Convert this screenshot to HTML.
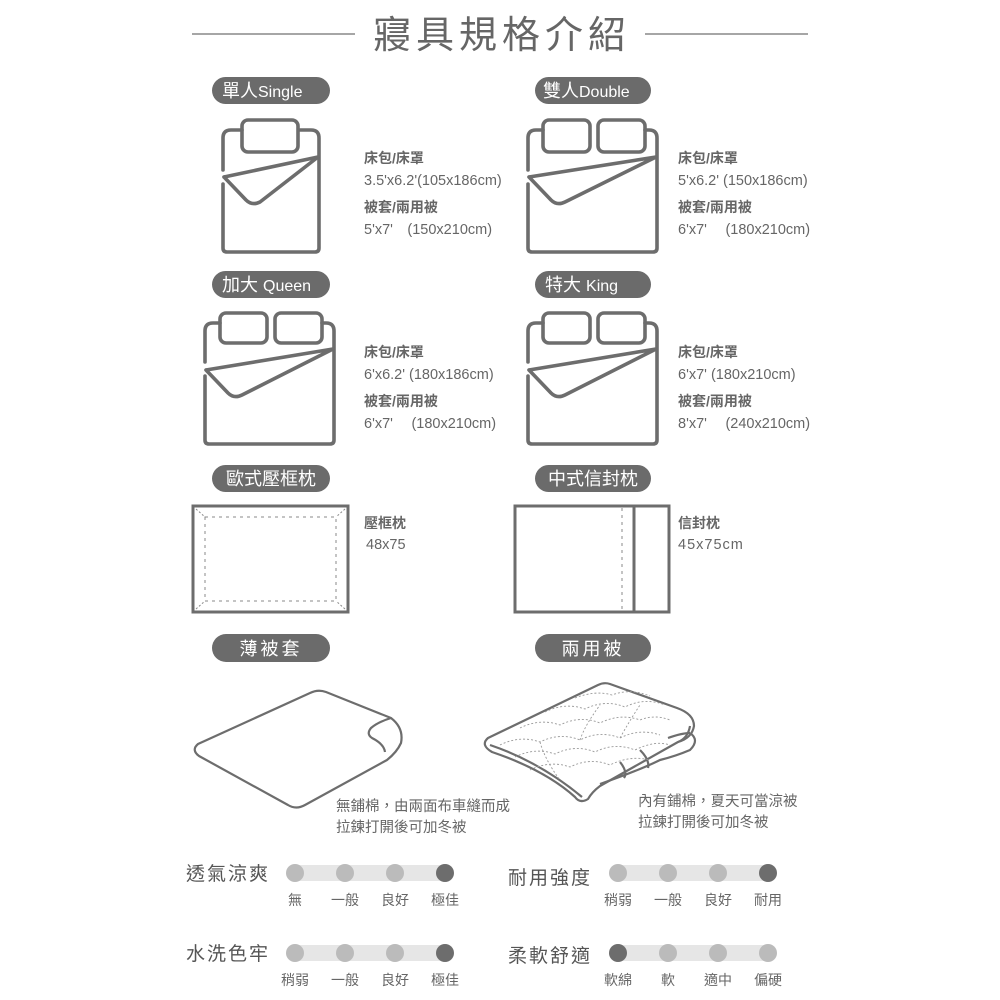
<!DOCTYPE html>
<html><head><meta charset="utf-8"><style>
html,body{margin:0;padding:0;background:#fff;}
svg{display:block;font-family:"Liberation Sans","Noto Sans CJK TC",sans-serif;}
.pill{fill:#6b6b6b}
.pt{fill:#fff;font-size:18px}
.ln{fill:none;stroke:#6d6d6d;stroke-width:3.6;stroke-linecap:round;stroke-linejoin:round}
.th{fill:none;stroke:#6d6d6d;stroke-width:2.2;stroke-linejoin:round}
.hd{fill:#666;font-size:14px;font-weight:bold}
.sp{fill:#666;font-size:14.5px}
.rl{fill:#555;font-size:19px;letter-spacing:2px}
.rs{fill:#666;font-size:14px;text-anchor:middle}
</style></head><body>
<svg width="1000" height="1000" viewBox="0 0 1000 1000">
<line x1="192" y1="34" x2="355" y2="34" stroke="#888" stroke-width="1.5"/>
<line x1="645" y1="34" x2="808" y2="34" stroke="#888" stroke-width="1.5"/>
<text x="502" y="48" text-anchor="middle" font-size="38" fill="#666" letter-spacing="5">寢具規格介紹</text>

<rect class="pill" x="212" y="77" width="118" height="27" rx="13.5"/><text class="pt" x="222" y="97">單人<tspan font-size="16">Single</tspan></text>
<rect class="pill" x="535" y="77" width="116" height="27" rx="13.5"/><text class="pt" x="543" y="97">雙人<tspan font-size="16">Double</tspan></text>
<rect class="pill" x="212" y="271" width="118" height="27" rx="13.5"/><text class="pt" x="222" y="291">加大 <tspan font-size="16">Queen</tspan></text>
<rect class="pill" x="535" y="271" width="116" height="27" rx="13.5"/><text class="pt" x="545" y="291">特大 <tspan font-size="16">King</tspan></text>
<rect class="pill" x="212" y="465" width="118" height="27" rx="13.5"/><text class="pt" x="271" y="485" text-anchor="middle">歐式壓框枕</text>
<rect class="pill" x="535" y="465" width="116" height="27" rx="13.5"/><text class="pt" x="593" y="485" text-anchor="middle">中式信封枕</text>
<rect class="pill" x="212" y="634" width="118" height="28" rx="14"/><text class="pt" x="271" y="655" text-anchor="middle" font-size="19" letter-spacing="3">薄被套</text>
<rect class="pill" x="535" y="634" width="116" height="28" rx="14"/><text class="pt" x="593" y="655" text-anchor="middle" font-size="19" letter-spacing="3">兩用被</text>

<path class="ln" d="M223,170 L223,138 Q223,130 231,130 L242,130 M300,130 L311,130 Q319,130 319,138 L319,248 Q319,252 315,252 L227,252 Q223,252 223,248 L223,184"/>
<rect class="ln" x="242" y="120" width="56" height="32" rx="6"/>
<path class="ln" d="M224,177 L318,157 M224,177 L246,200 Q252,206 260,202 L318,157"/>
<path class="ln" d="M528,170 L528,138 Q528,130 536,130 L543,130 M645,130 L649,130 Q657,130 657,138 L657,248 Q657,252 653,252 L532,252 Q528,252 528,248 L528,184"/>
<rect class="ln" x="543" y="120" width="47" height="32" rx="6"/>
<rect class="ln" x="598" y="120" width="47" height="32" rx="6"/>
<path class="ln" d="M529,177 L656,157 M529,177 L551,200 Q557,206 565,202 L656,157"/>
<path class="ln" d="M205,362 L205,331 Q205,323 213,323 L220,323 M322,323 L326,323 Q334,323 334,331 L334,440 Q334,444 330,444 L209,444 Q205,444 205,440 L205,376"/>
<rect class="ln" x="220" y="313" width="47" height="30" rx="6"/>
<rect class="ln" x="275" y="313" width="47" height="30" rx="6"/>
<path class="ln" d="M206,370 L333,349 M206,370 L228,393 Q234,399 242,395 L333,349"/>
<path class="ln" d="M528,362 L528,331 Q528,323 536,323 L543,323 M645,323 L649,323 Q657,323 657,331 L657,440 Q657,444 653,444 L532,444 Q528,444 528,440 L528,376"/>
<rect class="ln" x="543" y="313" width="47" height="30" rx="6"/>
<rect class="ln" x="598" y="313" width="47" height="30" rx="6"/>
<path class="ln" d="M529,370 L656,349 M529,370 L551,393 Q557,399 565,395 L656,349"/>

<text class="hd" x="364" y="163">床包/床罩</text><text class="sp" x="364" y="185">3.5'x6.2'(105x186cm)</text>
<text class="hd" x="364" y="212">被套/兩用被</text><text class="sp" x="364" y="234">5'x7'　(150x210cm)</text>
<text class="hd" x="678" y="163">床包/床罩</text><text class="sp" x="678" y="185">5'x6.2'  (150x186cm)</text>
<text class="hd" x="678" y="212">被套/兩用被</text><text class="sp" x="678" y="234">6'x7'　 (180x210cm)</text>
<text class="hd" x="364" y="357">床包/床罩</text><text class="sp" x="364" y="379">6'x6.2'  (180x186cm)</text>
<text class="hd" x="364" y="406">被套/兩用被</text><text class="sp" x="364" y="428">6'x7'　 (180x210cm)</text>
<text class="hd" x="678" y="357">床包/床罩</text><text class="sp" x="678" y="379">6'x7'  (180x210cm)</text>
<text class="hd" x="678" y="406">被套/兩用被</text><text class="sp" x="678" y="428">8'x7'　 (240x210cm)</text>

<rect x="193" y="506" width="155" height="106" fill="none" stroke="#6d6d6d" stroke-width="3"/>
<rect x="205" y="517" width="131" height="84" fill="none" stroke="#888" stroke-width="1" stroke-dasharray="3,4"/>
<path d="M196,509 L205,517 M345,509 L336,517 M196,609 L205,601 M345,609 L336,601" stroke="#888" stroke-width="1" stroke-dasharray="2,2"/>
<text class="hd" x="364" y="528">壓框枕</text><text class="sp" x="366" y="549">48x75</text>
<rect x="515" y="506" width="154" height="106" fill="none" stroke="#6d6d6d" stroke-width="3"/>
<line x1="622" y1="508" x2="622" y2="610" stroke="#888" stroke-width="1" stroke-dasharray="3,4"/>
<line x1="634" y1="506" x2="634" y2="612" stroke="#6d6d6d" stroke-width="3"/>
<text class="hd" x="678" y="528">信封枕</text><text class="sp" x="678" y="549" letter-spacing="1">45x75cm</text>

<path class="th" d="M198,744 L310,693 Q318,689 326,692 L391,718 Q404,728 401,743 Q397,752 387,760 L305,805 Q296,810 288,805 L199,756 Q191,750 198,744 Z"/>
<path class="th" d="M391,718 Q378,722 371,728 Q366,734 372,738 Q384,744 385,752"/>
<text class="sp" x="336" y="811">無鋪棉，由兩面布車縫而成</text>
<text class="sp" x="336" y="832">拉鍊打開後可加冬被</text>

<!-- dual quilt -->
<path class="th" d="M600,784 Q640,770 660,760 Q676,756 690,750 Q700,740 690,733"/>
<path class="th" d="M668,738 Q682,733 690,733"/>
<path class="th" d="M640,750 Q650,760 648,768 M620,762 Q628,772 624,778"/>
<path class="th" d="M488,738 L598,685 Q604,682 610,684 L677,708 Q694,714 694,726 Q692,738 678,742 L600,786 Q592,792 588,799 Q580,804 575,797 Q545,770 492,752 Q480,745 488,738 Z"/>
<path class="th" d="M490,745 Q540,762 582,797"/>
<path class="th" d="M678,742 Q688,738 690,726"/>
<g fill="none" stroke="#999" stroke-width="0.9" stroke-dasharray="2,2">
<path d="M500,745 Q520,735 540,742 Q560,732 580,740 Q600,730 620,738 Q640,728 660,735"/>
<path d="M515,757 Q535,747 555,754 Q575,744 595,752 Q615,742 635,750 Q655,740 670,745"/>
<path d="M530,770 Q550,760 570,767 Q590,757 610,765 Q630,755 650,760"/>
<path d="M520,728 Q540,718 560,725 Q580,715 600,723 Q620,713 640,720 Q655,714 670,720"/>
<path d="M545,712 Q565,702 585,709 Q605,699 625,707 Q645,697 665,705"/>
<path d="M575,698 Q595,690 612,695 Q630,688 650,696"/>
<path d="M540,742 Q545,760 560,780 M580,740 Q585,725 600,705 M620,738 Q630,720 640,705"/>
</g>
<text class="sp" x="638" y="806">內有鋪棉，夏天可當涼被</text>
<text class="sp" x="638" y="827">拉鍊打開後可加冬被</text>

<g>
<rect x="287" y="865" width="166" height="16" rx="8" fill="#e6e6e6"/>
<circle cx="295" cy="873" r="9" fill="#bbb"/><circle cx="345" cy="873" r="9" fill="#bbb"/><circle cx="395" cy="873" r="9" fill="#bbb"/><circle cx="445" cy="873" r="9" fill="#6d6d6d"/>
<text class="rl" x="186" y="880">透氣涼爽</text>
<text class="rs" x="295" y="905">無</text><text class="rs" x="345" y="905">一般</text><text class="rs" x="395" y="905">良好</text><text class="rs" x="445" y="905">極佳</text>

<rect x="610" y="865" width="166" height="16" rx="8" fill="#e6e6e6"/>
<circle cx="618" cy="873" r="9" fill="#bbb"/><circle cx="668" cy="873" r="9" fill="#bbb"/><circle cx="718" cy="873" r="9" fill="#bbb"/><circle cx="768" cy="873" r="9" fill="#6d6d6d"/>
<text class="rl" x="508" y="884">耐用強度</text>
<text class="rs" x="618" y="905">稍弱</text><text class="rs" x="668" y="905">一般</text><text class="rs" x="718" y="905">良好</text><text class="rs" x="768" y="905">耐用</text>

<rect x="287" y="945" width="166" height="16" rx="8" fill="#e6e6e6"/>
<circle cx="295" cy="953" r="9" fill="#bbb"/><circle cx="345" cy="953" r="9" fill="#bbb"/><circle cx="395" cy="953" r="9" fill="#bbb"/><circle cx="445" cy="953" r="9" fill="#6d6d6d"/>
<text class="rl" x="186" y="960">水洗色牢</text>
<text class="rs" x="295" y="985">稍弱</text><text class="rs" x="345" y="985">一般</text><text class="rs" x="395" y="985">良好</text><text class="rs" x="445" y="985">極佳</text>

<rect x="610" y="945" width="166" height="16" rx="8" fill="#e6e6e6"/>
<circle cx="618" cy="953" r="9" fill="#6d6d6d"/><circle cx="668" cy="953" r="9" fill="#bbb"/><circle cx="718" cy="953" r="9" fill="#bbb"/><circle cx="768" cy="953" r="9" fill="#bbb"/>
<text class="rl" x="508" y="962">柔軟舒適</text>
<text class="rs" x="618" y="985">軟綿</text><text class="rs" x="668" y="985">軟</text><text class="rs" x="718" y="985">適中</text><text class="rs" x="768" y="985">偏硬</text>
</g>
</svg>
</body></html>
